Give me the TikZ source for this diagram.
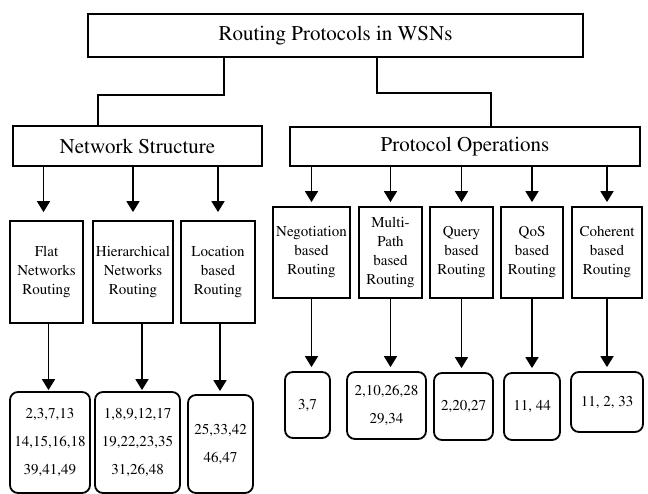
\documentclass[tikz,border=0pt]{standalone}
\usepackage[T1]{fontenc}
\usepackage{mathptmx}
\usepackage{tikz}
\usetikzlibrary{arrows.meta}

\begin{document}
\begin{tikzpicture}[x=1pt,y=-1pt,
    title_node/.style={draw,line width=1.8pt,inner sep=1pt,font=\fontsize{21}{25}\selectfont},
    type_node/.style={draw,line width=1.8pt,inner sep=1pt,align=center,font=\fontsize{15}{19}\selectfont},
    ref_node/.style={draw,line width=1.8pt,rounded corners=8pt,inner sep=1pt,align=center,font=\fontsize{15}{28}\selectfont},
    arrow_line/.style={line width=1.8pt,-{Triangle[width=13pt,length=11pt]}}]

    \useasboundingbox (0,0) rectangle (648,494);

    \node[title_node,minimum width=495pt,minimum height=43pt] (top) at (335.5,35.5) {Routing Protocols in WSNs};
    \node[title_node,minimum width=249pt,minimum height=40pt] (ns) at (137.5,146) {Network Structure};
    \node[title_node,minimum width=350pt,minimum height=39pt] (po) at (465,146.5) {Protocol Operations};

    \node[type_node,minimum width=73pt,minimum height=102pt] (flat) at (46.5,272) {Flat\\Networks\\Routing};
    \node[type_node,minimum width=80pt,minimum height=102pt] (hier) at (133,272) {Hierarchical\\Networks\\Routing};
    \node[type_node,minimum width=74pt,minimum height=102pt] (loc) at (218,272) {Location\\based\\Routing};
    \node[type_node,minimum width=77pt,minimum height=91pt] (neg) at (311.5,252.5) {Negotiation\\based\\Routing};
    \node[type_node,minimum width=63pt,minimum height=91pt] (multi) at (390.5,252.5) {Multi-\\Path\\based\\Routing};
    \node[type_node,minimum width=63pt,minimum height=91pt] (query) at (461.5,252.5) {Query\\based\\Routing};
    \node[type_node,minimum width=62pt,minimum height=91pt] (qos) at (532,252.5) {QoS\\based\\Routing};
    \node[type_node,minimum width=70pt,minimum height=91pt] (coh) at (607,252.5) {Coherent\\based\\Routing};

    \node[ref_node,minimum width=80pt,minimum height=101pt] (flat_ref) at (50,442.5) {2,3,7,13\\14,15,16,18\\39,41,49};
    \node[ref_node,minimum width=85pt,minimum height=101pt] (hier_ref) at (137.5,442.5) {1,8,9,12,17\\19,22,23,35\\31,26,48};
    \node[ref_node,minimum width=65pt,minimum height=98pt] (loc_ref) at (220.5,444) {25,33,42\\46,47};
    \node[ref_node,minimum width=45pt,minimum height=66pt] (neg_ref) at (307.5,405) {3,7};
    \node[ref_node,minimum width=79pt,minimum height=67pt] (multi_ref) at (386.5,405.5) {2,10,26,28\\29,34};
    \node[ref_node,minimum width=59pt,minimum height=67pt] (query_ref) at (463.5,406.5) {2,20,27};
    \node[ref_node,minimum width=56pt,minimum height=67pt] (qos_ref) at (532,406.5) {11, 44};
    \node[ref_node,minimum width=72pt,minimum height=60pt] (coh_ref) at (607,402) {11, 2, 33};

    \draw[line width=1.8pt] ([xshift=-111.5pt]top.south) -- ++(0,37) -| ([xshift=-39.5pt]ns.north);
    \draw[line width=1.8pt] ([xshift=41.5pt]top.south) -- ++(0,35) -| ([xshift=26pt]po.north);

    \draw[arrow_line,shorten >=8pt] ([xshift=-3pt]flat.north |- ns.south) -- ([xshift=-3pt]flat.north);
    \draw[arrow_line,shorten >=8pt] (hier.north |- ns.south) -- (hier.north);
    \draw[arrow_line,shorten >=8pt] (loc.north |- ns.south) -- (loc.north);
    \draw[arrow_line,shorten >=4pt] (neg.north |- po.south) -- (neg.north);
    \draw[arrow_line,shorten >=4pt] (multi.north |- po.south) -- (multi.north);
    \draw[arrow_line,shorten >=4pt] (query.north |- po.south) -- (query.north);
    \draw[arrow_line,shorten >=4pt] (qos.north |- po.south) -- (qos.north);
    \draw[arrow_line,shorten >=4pt] (coh.north |- po.south) -- (coh.north);

    \draw[arrow_line,shorten >=1pt] ([xshift=2pt]flat.south) -- ([xshift=2pt]flat.south |- flat_ref.north);
    \draw[arrow_line,shorten >=1pt] ([xshift=9pt]hier.south) -- ([xshift=9pt]hier.south |- hier_ref.north);
    \draw[arrow_line,shorten >=3pt] ([xshift=2pt]loc.south) -- ([xshift=2pt]loc.south |- loc_ref.north);
    \draw[arrow_line,shorten >=4pt] (neg.south) -- (neg.south |- neg_ref.north);
    \draw[arrow_line,shorten >=4pt] (multi.south) -- (multi.south |- multi_ref.north);
    \draw[arrow_line,shorten >=4pt] (query.south) -- (query.south |- query_ref.north);
    \draw[arrow_line,shorten >=4pt] (qos.south) -- (qos.south |- qos_ref.north);
    \draw[arrow_line,shorten >=4pt] (coh.south) -- (coh.south |- coh_ref.north);
\end{tikzpicture}
\end{document}
